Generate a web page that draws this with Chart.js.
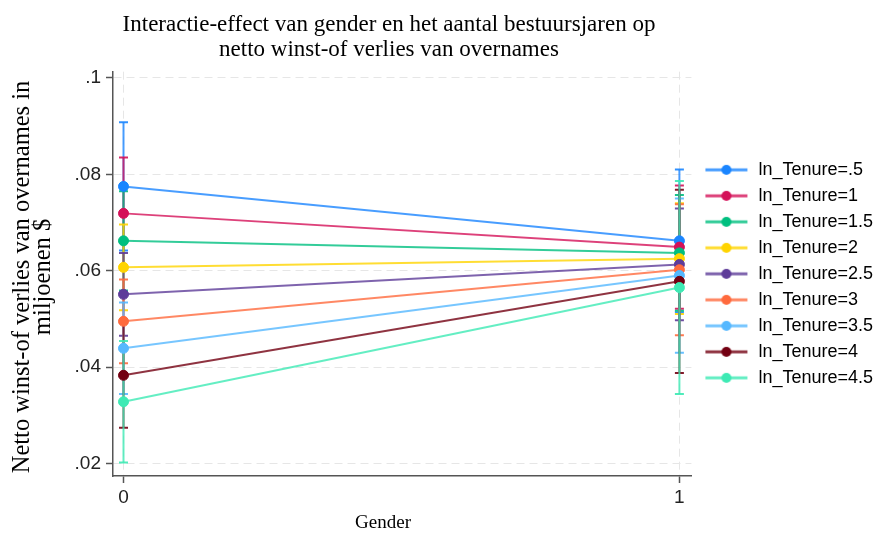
<!DOCTYPE html>
<html>
<head>
<meta charset="utf-8">
<script src="https://cdn.jsdelivr.net/npm/chart.js@4.4.1/dist/chart.umd.min.js"></script>
<style>
  html, body { margin: 0; padding: 0; background: #fff; }
  #wrap { width: 881px; height: 534px; }
</style>
</head>
<body>
<div id="wrap"><canvas id="grafico"></canvas></div>
<script>
// datos (margins por gender y ln_Tenure)
const tenureLabels = ['ln_Tenure=.5', 'ln_Tenure=1', 'ln_Tenure=1.5', 'ln_Tenure=2', 'ln_Tenure=2.5',
                      'ln_Tenure=3', 'ln_Tenure=3.5', 'ln_Tenure=4', 'ln_Tenure=4.5'];
const genderTicks = [0, 1];
const yTicks = [0.02, 0.04, 0.06, 0.08, 0.1];

const margin0 = [0.0775, 0.0719, 0.0662, 0.0607, 0.0551, 0.0495, 0.0439, 0.0383, 0.0328];
const margin1 = [0.0662, 0.0649, 0.0637, 0.0625, 0.0613, 0.0602, 0.0590, 0.0578, 0.0565];
const lo0 = [0.0642, 0.0603, 0.0559, 0.0518, 0.0465, 0.0408, 0.0344, 0.0274, 0.0202];
const hi0 = [0.0908, 0.0835, 0.0765, 0.0696, 0.0637, 0.0582, 0.0534, 0.0492, 0.0454];
const lo1 = [0.0514, 0.0521, 0.0517, 0.0510, 0.0497, 0.0466, 0.0430, 0.0388, 0.0344];
const hi1 = [0.0810, 0.0777, 0.0757, 0.0740, 0.0729, 0.0738, 0.0750, 0.0768, 0.0786];

const titleLines = ['Interactie-effect van gender en het aantal bestuursjaren op',
                    'netto winst-of verlies van overnames'];
const xTitle = 'Gender';
const yTitle = ['Netto winst-of verlies van overnames in', 'miljoenen $'];

const colors = ['#1a85ff', '#d41159', '#00bf7f', '#ffd400', '#5e3c99',
                '#ff6a3d', '#55b8ff', '#730012', '#3deab4'];

function fade(hex, a) {
  const n = parseInt(hex.slice(1), 16);
  return 'rgba(' + (n >> 16) + ',' + ((n >> 8) & 255) + ',' + (n & 255) + ',' + a + ')';
}

// simbolo de leyenda: linea con punto
function makeMarker(color) {
  const c = document.createElement('canvas');
  c.width = 50; c.height = 14;
  const g = c.getContext('2d');
  g.strokeStyle = fade(color, 0.8);
  g.lineWidth = 3;
  g.beginPath(); g.moveTo(6, 7); g.lineTo(48, 7); g.stroke();
  g.fillStyle = color;
  g.beginPath(); g.arc(27, 7, 5, 0, 2 * Math.PI); g.fill();
  return c;
}

const datasets = [];
tenureLabels.forEach(function (label, i) {
  datasets.push({
    label: label,
    data: [{x: 0, y: margin0[i]}, {x: 1, y: margin1[i]}],
    borderColor: fade(colors[i], 0.8),
    backgroundColor: colors[i],
    pointBackgroundColor: colors[i],
    pointBorderColor: colors[i],
    pointRadius: 5,
    pointBorderWidth: 1,
    borderWidth: 2,
    order: 20 - i,
    isMargin: true
  });
});
tenureLabels.forEach(function (label, i) {
  datasets.push({
    label: label + ' CI',
    data: [{x: 0, y: lo0[i]}, {x: 0, y: hi0[i]}, {x: 0.5, y: null}, {x: 1, y: lo1[i]}, {x: 1, y: hi1[i]}],
    borderColor: fade(colors[i], 0.8),
    borderWidth: 2,
    spanGaps: false,
    pointStyle: 'line',
    pointRadius: 4.5,
    pointBorderWidth: 2,
    pointBorderColor: fade(colors[i], 0.9),
    order: 100 - i,
    isMargin: false
  });
});

const textos = {
  id: 'textos',
  afterDraw(chart) {
    const ctx = chart.ctx;
    ctx.save();
    ctx.fillStyle = '#000';
    ctx.textAlign = 'center';
    ctx.textBaseline = 'middle';
    ctx.font = '23px "Liberation Serif"';
    ctx.fillText(titleLines[0], 389, 25);
    ctx.fillText(titleLines[1], 389, 50);
    ctx.font = '19px "Liberation Serif"';
    ctx.fillText(xTitle, 383, 523);
    ctx.translate(0, 277);
    ctx.rotate(-Math.PI / 2);
    ctx.font = '24.5px "Liberation Serif"';
    ctx.fillText(yTitle[0], 0, 23);
    ctx.fillText(yTitle[1], 0, 44);
    ctx.restore();
  }
};

const tickFont = {family: 'Liberation Sans', size: 19};

new Chart(document.getElementById('grafico'), {
  type: 'line',
  data: {datasets: datasets},
  plugins: [textos],
  options: {
    responsive: true,
    maintainAspectRatio: false,
    animation: false,
    layout: {padding: {top: 71.7, right: -2, bottom: 0, left: 0}},
    scales: {
      x: {
        type: 'linear',
        min: -0.0189,
        max: 1.0216,
        afterBuildTicks: function (s) { s.ticks = genderTicks.map(v => ({value: v})); },
        afterFit: function (s) { s.height = 58; },
        ticks: {font: tickFont, color: '#222', padding: 3, callback: v => String(v)},
        grid: {color: '#e6e6e6', lineWidth: 1, tickColor: '#555', tickWidth: 1.5, tickLength: 7, tickBorderDash: []},
        border: {display: true, color: '#555', width: 1.5, dash: [8, 5]}
      },
      y: {
        min: 0.0174,
        max: 0.1013,
        afterBuildTicks: function (s) { s.ticks = yTicks.map(v => ({value: v})); },
        afterFit: function (s) { s.width = 113; },
        ticks: {font: tickFont, color: '#222', padding: 5,
                callback: v => v.toFixed(2).replace(/^0/, '').replace(/0$/, '')},
        grid: {color: '#e6e6e6', lineWidth: 1, tickColor: '#555', tickWidth: 1.5, tickLength: 7, tickBorderDash: []},
        border: {display: true, color: '#555', width: 1.5, dash: [8, 5]}
      }
    },
    plugins: {
      title: {display: false},
      tooltip: {enabled: false},
      legend: {
        position: 'right',
        fullSize: false,
        labels: {
          usePointStyle: true,
          pointStyleWidth: 50,
          padding: 8,
          color: '#222',
          font: {family: 'Liberation Sans', size: 18},
          generateLabels: function (chart) {
            return chart.data.datasets.map((d, i) => ({d: d, i: i}))
              .filter(o => o.d.isMargin)
              .map(o => ({
                text: o.d.label,
                pointStyle: makeMarker(colors[o.i]),
                fillStyle: colors[o.i],
                strokeStyle: colors[o.i],
                lineWidth: 0,
                hidden: false,
                datasetIndex: o.i
              }));
          }
        }
      }
    }
  }
});
</script>
</body>
</html>
